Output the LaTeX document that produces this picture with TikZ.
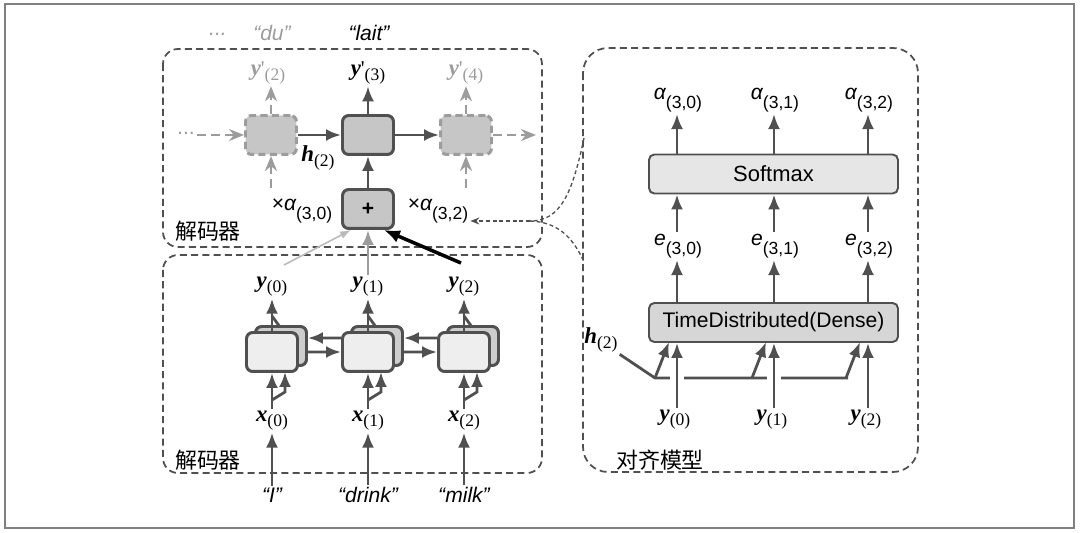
\documentclass[tikz,border=0pt]{standalone}
\usepackage{fontspec}
\usepackage{xcolor}
\setmainfont{Liberation Sans}
\newfontfamily\cjk{Noto Sans CJK SC}
\newfontfamily\tms{Liberation Serif}
\usetikzlibrary{arrows.meta,positioning}

\definecolor{ink}{HTML}{505050}
\definecolor{faded}{HTML}{9C9C9C}
\definecolor{cellgray}{HTML}{C6C6C6}
\definecolor{frontgray}{HTML}{EEEEEE}
\definecolor{backgray}{HTML}{CDCDCD}
\definecolor{softgray}{HTML}{E6E6E6}
\definecolor{densegray}{HTML}{D6D6D6}

\newcommand{\lowidx}[1]{\raisebox{-0.5ex}{\fontsize{10}{11}\selectfont #1}}
\newcommand{\vecsym}[2]{{\tms\fontsize{13}{14}\selectfont\bfseries\itshape #1}{\tms\lowidx{#2}}}
\newcommand{\vecprime}[2]{{\tms\fontsize{13}{14}\selectfont\bfseries\itshape #1}{\tms\textquotesingle\lowidx{#2}}}
\newcommand{\alpw}[1]{{\itshape α}\raisebox{-0.8ex}{\fontsize{10}{11}\selectfont #1}}
\newcommand{\escore}[1]{{\itshape e}\raisebox{-0.8ex}{\fontsize{10}{11}\selectfont #1}}

\begin{document}
\begin{tikzpicture}[x=0.02cm, y=-0.02cm, font=\fontsize{12}{14}\selectfont]

\tikzstyle{region} = [draw=ink, line width=1pt, dash pattern=on 4pt off 2.4pt]
\tikzstyle{cell} = [rectangle, rounded corners=3.5pt, draw=ink, line width=1.7pt, minimum width=1.02cm, minimum height=0.78cm, inner sep=0pt]
\tikzstyle{ghost} = [cell, draw=faded, fill=cellgray, dash pattern=on 4pt off 2.5pt]
\tikzstyle{layer} = [rectangle, rounded corners=3pt, draw=ink, line width=1.1pt, minimum width=4.98cm, minimum height=0.78cm]
\tikzstyle{lbl} = [inner sep=1pt]
\tikzstyle{cjklbl} = [inner sep=1pt, font=\cjk\fontsize{12.5}{14}\selectfont]
\tikzstyle{arrow} = [draw=ink, line width=1.6pt, -{Latex[length=0.3cm,width=0.24cm]}]
\tikzstyle{ghostarrow} = [draw=faded, line width=1.6pt, dash pattern=on 5pt off 3pt, -{Stealth[open,length=0.3cm,width=0.24cm]}]
\tikzstyle{callout} = [draw=ink, line width=0.75pt, dash pattern=on 2.2pt off 1.6pt]

\useasboundingbox (0,0) rectangle (1080,533);
\draw[gray, line width=1pt] (5,4) rectangle (1074,528);

% regions
\draw[region, rounded corners=0.3cm] (163,49) rectangle (542,247);
\draw[region, rounded corners=0.3cm] (163,255) rectangle (542,473);
\draw[region, rounded corners=0.5cm] (583,48) rectangle (918,472);
\node (declab) [cjklbl] at (208,231) {解码器};
\node (enclab) [cjklbl] at (208,460) {解码器};
\node (alnlab) [cjklbl] at (660,460) {对齐模型};

% decoder
\node (dprev) [ghost] at (271,135) {};
\node (dcur) [cell, fill=cellgray] at (368,135) {};
\node (dnext) [ghost] at (466,135) {};
\node (plus) [cell, fill=cellgray] at (368,209) {\textbf{+}};

\node (wdots) [lbl, text=faded] at (218,34) {\itshape ...};
\node (wdu) [lbl, text=faded] at (272,33) {\itshape “du”};
\node (wlait) [lbl] at (369,33) {\itshape “lait”};
\node (yp2) [lbl, text=faded] at (268,73) {\vecprime{y}{(2)}};
\node (yp3) [lbl] at (368,73) {\vecprime{y}{(3)}};
\node (yp4) [lbl, text=faded] at (466,73) {\vecprime{y}{(4)}};
\node (hdots) [lbl, text=faded] at (186,133) {...};
\node (hdec) [lbl] at (318,158) {\vecsym{h}{(2)}};
\node (w30) [lbl] at (302,211) {×\alpw{(3,0)}};
\node (w32) [lbl] at (438,211) {×\alpw{(3,2)}};
\coordinate (dend) at (536,135);
\coordinate (pinL) at (271,188);
\coordinate (pinR) at (466,188);

\draw [ghostarrow] (hdots.east |- dprev) -- (dprev.west);
\draw [arrow] (dprev) -- (dcur);
\draw [arrow] (dcur) -- (dnext);
\draw [ghostarrow] (dnext) -- (dend);
\draw [ghostarrow] (pinL) -- (dprev.south);
\draw [ghostarrow] (pinR) -- (dnext.south);
\draw [ghostarrow] (dprev.north) -- (dprev.north |- yp2.south);
\draw [ghostarrow] (dnext.north) -- (dnext.north |- yp4.south);
\draw [arrow] (dcur.north) -- (dcur.north |- yp3.south);
\draw [arrow] (plus) -- (dcur);

% encoder
\foreach \i/\x/\w in {0/272/“I”,1/368/“drink”,2/464/“milk”} {
  \node (eback\i) [cell, fill=backgray] at ({\x+9},346) {};
  \node (efront\i) [cell, fill=frontgray] at (\x,352) {};
  \node (ey\i) [lbl] at (\x,287) {\vecsym{y}{(\i)}};
  \node (ex\i) [lbl] at (\x,421) {\vecsym{x}{(\i)}};
  \node (word\i) [lbl] at (\x,495) {\itshape \w};
  \draw [arrow] (word\i) -- (ex\i);
  \draw [arrow] (ex\i) -- (efront\i);
  \draw [arrow] (\x,400) -- ({\x+13},392) -- ({\x+13},372);
  \draw [arrow] (efront\i) -- (ey\i);
  \draw [ink, line width=1.6pt] ({\x+8},327) -- (\x,316);
}
\foreach \i/\j in {0/1,1/2} {
  \draw [arrow] ([yshift=0.28cm]efront\j.west) -- ([yshift=0.16cm]eback\i.east);
  \draw [arrow] ([yshift=-0.12cm]eback\i.east) -- (efront\j.west);
}

% attention into the decoder
\coordinate (from0) at (284,265);
\coordinate (from2) at (461,263);
\draw [arrow, draw=faded] (ey1) -- (plus);
\draw [draw=faded!70, line width=0.9pt, -{Latex[length=0.22cm,width=0.16cm]}] (from0) -- ([xshift=0.2cm]plus.south west);
\draw [black, line width=2pt, -{Latex[length=0.32cm,width=0.26cm]}] (from2) -- ([xshift=-0.22cm]plus.south east);

% zoom callout
\coordinate (ztop) at (584,138);
\coordinate (zbot) at (584,262);
\coordinate (zmid) at (530,221);
\draw [callout] (ztop) .. controls (572,195) and (560,221) .. (zmid);
\draw [callout] (zmid) .. controls (560,222) and (574,240) .. (zbot);
\draw [callout, -{Stealth[length=0.18cm,width=0.14cm]}] (zmid) -- (w32.east |- zmid);

% alignment model
\node (softmax) [layer, fill=softgray, font=\fontsize{12.5}{14}\selectfont] at (773.5,174) {Softmax};
\node (tdense) [layer, fill=densegray] at (773.5,322.5) {TimeDistributed(Dense)};
\node (hal) [lbl] at (601,340) {\vecsym{h}{(2)}};
\coordinate (hknee) at (655,378);
\draw [ink, line width=1.6pt] (hal.south east) -- (hknee) -- (848,378);
\foreach \i/\x in {0/677,1/774,2/868} {
  \coordinate (col\i) at (\x,0);
  \node (al\i) [lbl] at ({\x+1},100) {\alpw{(3,\i)}};
  \node (es\i) [lbl] at ({\x+1},246) {\escore{(3,\i)}};
  \node (ay\i) [lbl] at ({\x-2},420) {\vecsym{y}{(\i)}};
  \draw [arrow] (softmax.north -| col\i) -- (al\i.south -| col\i);
  \draw [arrow] (es\i.north -| col\i) -- (softmax.south -| col\i);
  \draw [arrow] (tdense.north -| col\i) -- (es\i.south -| col\i);
  \draw [arrow, preaction={draw=white, line width=8pt, -, shorten >=0.35cm}] (ay\i.north -| col\i) -- (tdense.south -| col\i);
  \draw [arrow] ({\x-22},378) -- ({\x-8},342);
}

\end{tikzpicture}
\end{document}
